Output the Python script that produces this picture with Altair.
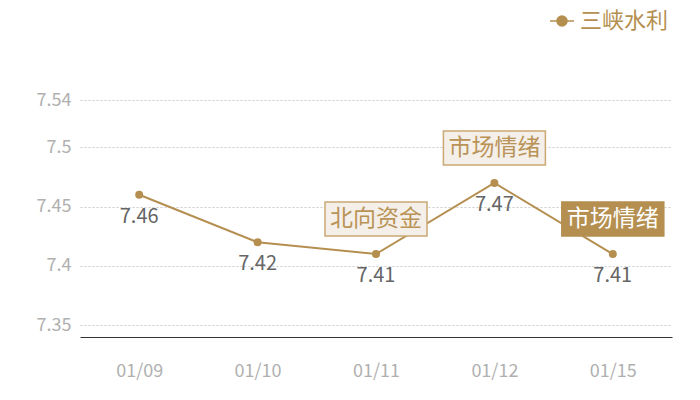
import altair as alt
import pandas as pd

dates = ["01/09", "01/10", "01/11", "01/12", "01/15"]
values = [7.46, 7.42, 7.41, 7.47, 7.41]
series_name = "三峡水利"

ann_dates = ["01/11", "01/12", "01/15"]
ann_values = [7.41, 7.47, 7.41]
ann_labels = ["北向资金", "市场情绪", "市场情绪"]
ann_filled = [False, False, True]

y_ticks = [7.35, 7.4, 7.45, 7.5, 7.54]

GOLD = "#b58f50"
FONT = "Noto Sans CJK SC"

df = pd.DataFrame({"date": dates, "value": values, "series": [series_name] * len(dates)})
ann = pd.DataFrame({"date": ann_dates, "value": ann_values, "label": ann_labels, "filled": ann_filled})

x = alt.X("date:N", sort=dates, title=None,
          scale=alt.Scale(paddingInner=0, paddingOuter=0),
          axis=alt.Axis(labelAngle=0, ticks=False, domain=True, domainColor="#333333",
                        domainWidth=1, labelColor="#b0b0b0", labelFontSize=18,
                        labelPadding=25, labelFont=FONT, grid=False))
y = alt.Y("value:Q", title=None,
          scale=alt.Scale(domain=[7.34, 7.54], nice=False, zero=False),
          axis=alt.Axis(values=y_ticks, format=".2~f", ticks=False, domain=False,
                        grid=True, gridColor="#cccccc", gridDash=[2, 2], gridWidth=1,
                        labelColor="#b0b0b0", labelFontSize=18, labelPadding=9,
                        labelFont=FONT))

legend_path = "M-1,0L-0.42,0M0.42,0L1,0M-0.42,0A0.42,0.42 0 1,1 0.42,0A0.42,0.42 0 1,1 -0.42,0Z"

line = alt.Chart(df).mark_line(strokeWidth=2).encode(
    x=x, y=y,
    color=alt.Color("series:N", scale=alt.Scale(range=[GOLD]),
                    legend=alt.Legend(title=None, orient="none", legendX=469, legendY=-92,
                                      symbolType=legend_path, symbolSize=576,
                                      symbolStrokeWidth=1.5, symbolFillColor=GOLD,
                                      symbolStrokeColor=GOLD,
                                      labelFontSize=22, labelColor=GOLD, labelFont=FONT,
                                      labelOffset=5, padding=0)),
)
pts = alt.Chart(df).mark_circle(size=64, opacity=1, color=GOLD).encode(x=x, y=y)
vals = alt.Chart(df).mark_text(dy=22, fontSize=20, color="#666666", font=FONT,
                               baseline="middle").encode(
    x=x, y=y, text=alt.Text("value:Q", format=".2f"))

box_shape = "M-1,-0.333L1,-0.333L1,0.333L-1,0.333Z"
box_out = alt.Chart(ann).transform_filter("!datum.filled").mark_point(
    shape=box_shape, size=10404, filled=True, fill="#f4efe8", stroke="#c9a874",
    strokeWidth=1.5, opacity=1, yOffset=-35).encode(x=x, y=y)
txt_out = alt.Chart(ann).transform_filter("!datum.filled").mark_text(
    fontSize=23, color="#b99356", font=FONT, yOffset=-35, baseline="middle").encode(
    x=x, y=y, text="label:N")
box_in = alt.Chart(ann).transform_filter("datum.filled").mark_point(
    shape=box_shape, size=10404, filled=True, fill=GOLD, stroke=GOLD,
    strokeWidth=1.5, opacity=1, yOffset=-35).encode(x=x, y=y)
txt_in = alt.Chart(ann).transform_filter("datum.filled").mark_text(
    fontSize=23, color="#ffffff", font=FONT, yOffset=-35, baseline="middle").encode(
    x=x, y=y, text="label:N")

chart = alt.layer(line, pts, vals, box_out, txt_out, box_in, txt_in).properties(
    width=592, height=237,
    background="#ffffff",
    autosize=alt.AutoSizeParams(type="none"),
    padding={"left": 72, "top": 92, "right": 20, "bottom": 50},
).configure_view(strokeWidth=0, stroke="transparent")

chart.save("out.html", embed_options={"renderer": "svg", "actions": False})
